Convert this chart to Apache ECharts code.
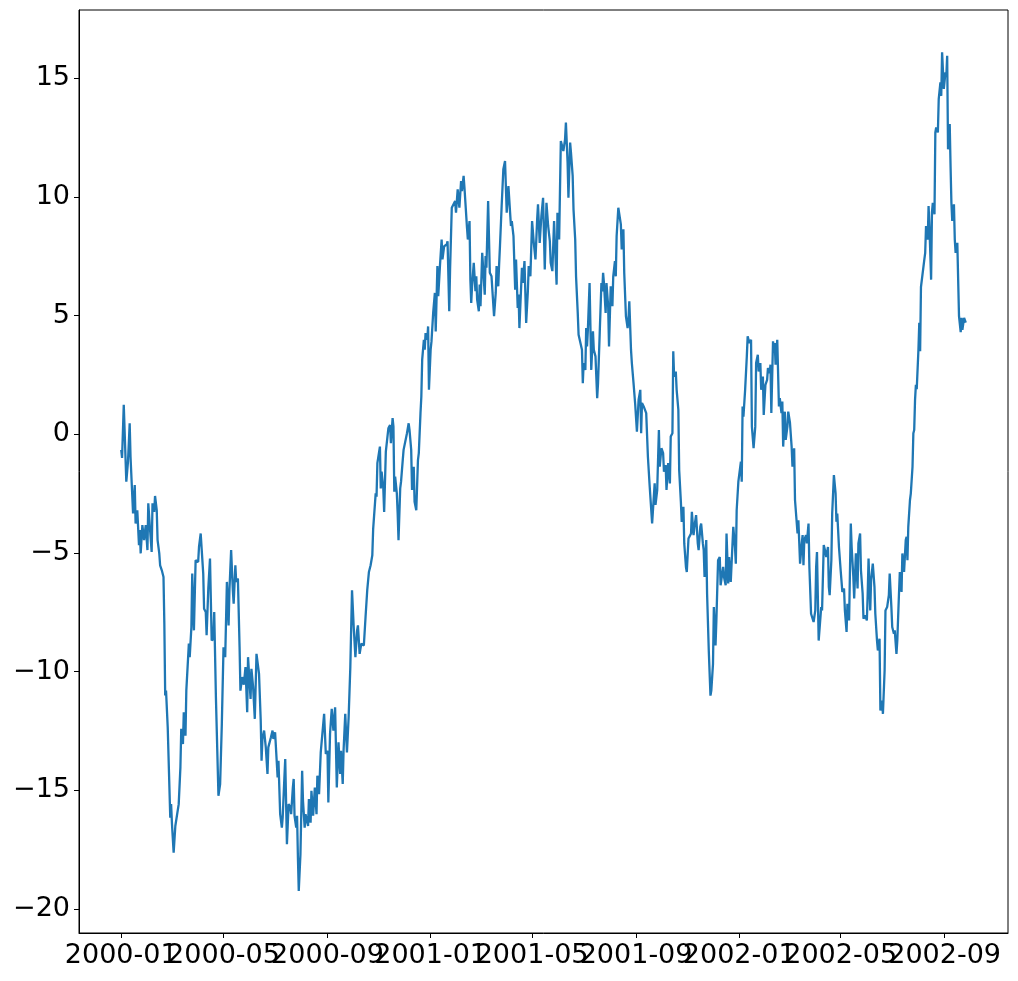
<!DOCTYPE html>
<html>
<head>
<meta charset="utf-8">
<script src="https://cdn.jsdelivr.net/npm/echarts@6/dist/echarts.min.js"></script>
<style>
  html, body { margin: 0; padding: 0; background: #fff; }
  #main { width: 1018px; height: 981px; }
</style>
</head>
<body>
<div id="main"></div>
<script>
// days since 2000-01-01 and the value at that day
var days = [
  0,1,3,4,6,8,10,11,12,14,16,17,19,21,22,23,25,27,29,31,32,34,36,37,39,40,42,43,45,46,48,50,
  51,52,53,55,58,59,60,62,64,66,68,70,71,73,74,76,77,80,81,83,84,86,88,91,92,94,97,98,100,
  101,103,104,105,107,109,110,112,115,117,119,121,123,125,127,128,130,132,133,135,136,138,140,
  141,143,145,147,149,150,153,154,156,158,160,162,163,165,166,167,169,171,173,174,177,179,180,
  182,184,185,186,188,190,191,193,194,196,198,200,201,203,204,205,207,208,209,210,212,214,215,
  217,218,219,221,222,224,225,227,229,231,232,234,236,238,240,242,244,245,247,249,251,253,255,
  257,259,260,262,263,265,267,269,271,273,275,277,279,280,282,284,285,287,289,291,293,295,297,
  298,301,302,303,304,306,307,308,310,311,313,314,316,318,319,321,322,323,324,326,327,328,330,
  331,333,334,336,338,340,341,343,344,346,347,349,351,352,354,355,356,358,359,360,362,363,364,
  366,367,369,371,372,374,375,377,379,380,382,383,385,386,388,389,391,393,395,396,398,400,402,
  403,405,406,408,409,410,412,413,414,415,417,419,420,421,423,424,425,427,428,430,431,432,434,
  436,438,440,441,443,444,446,447,448,450,452,454,456,458,459,461,462,464,466,467,469,470,471,
  474,475,477,479,481,482,484,486,488,490,492,493,495,497,499,501,503,505,507,508,510,512,513,
  515,516,518,520,522,523,525,526,528,529,531,532,534,535,537,538,540,541,543,545,546,547,549,
  550,551,552,554,556,558,559,561,563,564,566,568,569,570,571,573,574,576,577,579,581,582,584,
  585,586,588,590,591,592,594,595,597,599,600,601,603,604,606,608,609,610,612,614,615,616,618,
  619,621,623,625,626,628,630,631,632,634,636,637,639,641,642,644,645,647,649,650,652,653,654,
  656,657,659,660,662,663,665,666,668,669,671,672,674,675,677,678,680,682,683,685,686,688,689,
  690,692,693,695,697,698,700,701,703,704,706,708,709,711,712,713,715,716,718,719,721,723,724,
  726,727,728,730,732,733,734,735,736,738,740,741,743,745,746,748,750,751,753,754,756,757,759,
  760,762,764,765,767,768,769,771,772,773,774,776,778,779,781,782,783,785,786,788,789,791,793,
  794,796,797,799,800,801,803,805,806,807,808,810,811,813,814,816,817,819,821,822,823,825,826,
  828,829,831,832,834,836,837,838,840,841,843,845,846,847,849,851,852,853,855,856,858,859,861,
  863,864,866,867,869,871,872,874,875,877,878,880,882,883,884,886,887,889,891,892,894,895,897,
  898,900,901,903,904,906,908,909,911,912,914,915,917,918,920,921,923,924,926,928,929,930,931,
  933,934,936,937,938,939,940,941,943,944,945,946,948,950,951,952,954,955,956,958,959,960,962,
  963,964,966,967,969,970,971,972,973,975,976,977,978,980,981,982,983,985,986,987,989,990,991,
  993,994,995,997,999
];
var values = [
  -0.66,-1.0,1.24,1.25,-2.0,-1.16,0.46,-0.95,-1.0,-3.34,-2.14,-3.76,-3.2,-4.67,-4.04,-5.02,-3.83,-4.46,-3.83,-4.88,-2.91,-3.97,-4.96,-2.91,-3.27,-2.6,-3.2,-4.46,-5.02,-5.52,-5.73,-6.01,
  -7.98,-11.0,-10.8,-12.35,-16.15,-15.58,-16.4,-17.62,-16.5,-16.5,-15.58,-14.03,-12.41,-13.05,-11.71,-12.7,-10.8,-8.82,-9.39,-8.12,-5.87,-8.26,-5.31,-5.38,-4.75,-4.18,-5.87,-7.35,-7.49,
  -8.47,-6.5,-6.46,-5.24,-8.69,-8.6,-7.49,-11.08,-15.23,-14.73,-12.2,-8.97,-9.39,-6.22,-8.05,-6.57,-4.88,-6.57,-7.14,-5.52,-6.22,-6.08,-8.97,
  -10.8,-10.23,-10.55,-9.81,-11.71,-9.39,-11.15,-9.88,-10.65,-11.99,-9.25,-9.81,-10.09,-12.06,-13.75,-12.83,-12.48,-13.19,-14.31,-13.19,-12.77,-12.48,-12.83,
  -12.55,-12.55,-14.46,-13.75,-16.0,-16.57,-16.14,-14.46,-13.68,-17.27,-15.58,-15.72,-16.0,-14.88,-14.52,-16.07,-16.57,-16.07,-17.83,-19.24,-17.69,-14.17,-15.44,
  -16.57,-16.0,-16.0,-16.5,-15.37,-16.36,-15.02,-16.07,-14.88,-16.0,-14.38,-15.16,-13.4,-13.47,-11.78,-13.47,-13.33,-15.51,-12.62,-11.57,-12.48,-11.5,-14.88,
  -12.98,-14.31,-13.33,-14.73,-13.33,-11.78,-13.4,-11.92,-9.81,-6.57,-8.12,-9.39,-8.26,-8.05,-9.25,-8.82,-8.82,-8.9,-7.7,-6.57,-5.8,-5.52,-5.1,
  -4.0,-2.49,-2.63,-1.22,-1.2,-0.52,-2.28,-1.58,-2.28,-3.27,-0.73,-0.73,0.25,0.39,-0.38,0.68,0.32,-2.42,-1.79,-2.49,-3.34,-4.46,-2.28,
  -2.0,-1.09,-0.66,-0.6,0.04,0.46,0.18,-0.66,-2.35,-1.37,-2.85,-3.2,-1.09,-0.8,0.89,1.59,3.14,3.98,3.56,4.26,3.98,4.54,1.87,
  3.56,3.91,5.11,5.95,4.33,7.08,5.81,7.08,8.2,7.36,7.92,7.85,7.99,8.13,5.18,6.94,9.54,9.61,9.82,9.33,10.31,9.54,10.66,
  10.24,10.88,10.39,10.39,8.7,8.2,8.98,6.51,5.53,6.23,7.22,6.02,6.65,5.67,5.18,6.3,5.39,7.64,7.57,5.88,7.5,7.01,9.82,
  6.8,6.65,6.73,4.97,5.95,7.08,6.23,7.15,7.92,9.61,11.16,11.51,9.33,10.45,10.45,8.77,8.98,8.34,6.09,7.36,5.32,5.88,4.47,
  7.01,6.37,7.29,4.69,6.02,7.08,6.65,8.98,8.06,7.36,9.05,9.68,8.06,9.19,9.96,6.94,9.75,8.77,8.13,7.22,6.87,8.98,8.06,
  6.3,9.33,8.2,12.35,12.07,11.93,12.42,13.13,11.44,9.96,12.28,11.86,10.88,9.47,8.2,6.65,5.11,4.19,4.12,3.56,2.15,3.0,2.71,
  4.47,3.7,4.4,6.37,2.71,4.33,3.56,3.28,1.52,2.15,4.26,6.37,6.02,6.8,6.37,5.11,6.37,5.39,3.7,6.23,5.39,6.65,7.29,
  6.65,8.34,9.54,9.47,8.84,7.78,8.63,6.8,4.97,4.47,4.83,5.6,3.56,3.0,2.15,1.24,1.31,0.11,1.45,1.87,0.04,1.31,1.17,
  1.2,0.89,-0.95,-2.14,-2.21,-3.76,-2.63,-2.07,-2.98,-2.35,0.18,-1.37,-0.59,-0.8,-1.58,-1.3,-2.35,-1.22,-2.07,-0.1,0.04,3.49,2.43,
  2.64,1.87,1.03,-1.51,-2.85,-3.69,-3.06,-4.6,-5.59,-5.8,-4.39,-4.32,-4.18,-3.27,-4.25,-3.9,-3.41,-4.6,-4.88,-3.9,-3.76,-4.6,-4.88,
  -6.01,-4.46,-6.71,-9.11,-11.01,-10.8,-9.67,-7.28,-8.9,-7.84,-5.31,-5.17,-6.36,-6.29,-5.59,-6.01,-6.36,-4.18,-6.29,-5.17,-6.22,-4.67,-3.9,
  -4.75,-5.45,-3.2,-2.0,-2.07,-1.16,-2.0,1.17,0.74,1.87,3.28,4.12,3.84,3.98,0.32,-0.59,0.32,3.0,3.35,2.64,3.0,1.87,2.43,
  0.81,2.08,2.29,2.79,2.57,2.93,0.89,3.91,3.63,3.84,2.93,3.98,1.17,1.52,0.89,1.38,-0.52,0.95,-0.24,0.32,0.95,0.5,-0.52,
  -1.37,-0.59,-2.77,-2.85,-4.18,-3.62,-5.45,-4.6,-4.25,-5.52,-4.46,-4.25,-4.6,-3.76,-5.59,-7.56,-7.56,-7.91,-7.42,-5.59,-4.96,-8.69,-8.69,
  -7.28,-7.42,-4.67,-4.81,-5.17,-4.75,-6.43,-6.78,-5.31,-3.34,-1.72,-2.49,-3.69,-3.34,-4.75,-5.73,-5.8,-6.64,-6.5,-7.42,-8.33,-7.14,-7.84,
  -3.76,-4.75,-6.01,-6.92,-5.02,-6.5,-4.6,-4.18,-5.73,-6.71,-7.77,-7.63,-7.84,-6.71,-5.24,-7.42,-6.15,-5.45,-6.43,-7.56,-8.69,-9.11,-8.61,
  -11.64,-11.22,-11.78,-9.95,-7.42,-7.28,-6.78,-5.87,-7.28,-8.12,-8.4,-8.26,-9.25,-8.69,-6.71,-5.8,-6.64,-5.02,-5.8,-4.46,-4.32,-5.31,-3.9,
  -2.77,-2.49,-1.37,0.04,0.18,1.45,2.08,1.9,3.56,4.69,3.5,6.2,6.16,7.36,7.64,8.77,8.2,9.61,8.77,6.51,9.33,9.75,9.26,
  12.71,12.92,12.71,14.11,14.82,14.25,16.09,16.1,14.54,15.24,15.1,15.94,12.0,13.06,11.3,9.75,8.98,9.68,8.2,7.64,8.06,6.51,4.97,
  4.3,4.9,4.4,4.9,4.7
];
var xTickLabels = ['2000-01','2000-05','2000-09','2001-01','2001-05','2001-09','2002-01','2002-05','2002-09'];
var yTicks = [-20, -15, -10, -5, 0, 5, 10, 15];

var DAY = 86400000;
var t0 = Date.UTC(2000, 0, 1);

var seriesData = [];
for (var i = 0; i < days.length; i++) {
  seriesData.push([t0 + days[i] * DAY, values[i]]);
}
var xTicks = xTickLabels.map(function (s) {
  var p = s.split('-');
  return Date.UTC(+p[0], +p[1] - 1, 1);
});
// the labels overlap their neighbours, so split them over two stacked axes
// (even and odd positions) so ECharts does not drop any of them
var xTicksEven = xTicks.filter(function (t, k) { return k % 2 === 0; });
var xTicksOdd = xTicks.filter(function (t, k) { return k % 2 === 1; });

// matplotlib style margins: 5% either side of the data
var xSpan = days[days.length - 1] - days[0];
var xMin = t0 + (days[0] - xSpan * 0.05) * DAY;
var xMax = t0 + (days[days.length - 1] + xSpan * 0.05) * DAY;
var vMin = Math.min.apply(null, values), vMax = Math.max.apply(null, values);
var ySpan = vMax - vMin;

function pad(n) { return n < 10 ? '0' + n : '' + n; }
function monthLabel(v) {
  var d = new Date(v);
  return d.getUTCFullYear() + '-' + pad(d.getUTCMonth() + 1);
}
var labelStyle = {
  hideOverlap: false,
  showMinLabel: true,
  showMaxLabel: true,
  margin: 9,
  color: '#000',
  fontSize: 27,
  fontFamily: 'DejaVu Sans',
  formatter: monthLabel
};

var myChart = echarts.init(document.getElementById('main'));
var option = {
  animation: false,
  backgroundColor: '#fff',
  grid: {
    left: 79, right: 10, top: 10, bottom: 48,
    show: true, borderColor: '#000', borderWidth: 1
  },
  xAxis: [{
    type: 'value',
    position: 'bottom',
    min: xMin,
    max: xMax,
    splitLine: { show: false },
    axisLine: { show: true, onZero: false, lineStyle: { color: '#000', width: 1 } },
    axisTick: { show: true, length: 5, lineStyle: { color: '#000' }, customValues: xTicks },
    axisLabel: Object.assign({ customValues: xTicksEven }, labelStyle)
  }, {
    type: 'value',
    position: 'bottom',
    offset: 0,
    min: xMin,
    max: xMax,
    splitLine: { show: false },
    axisLine: { show: false, onZero: false },
    axisTick: { show: false },
    axisLabel: Object.assign({ customValues: xTicksOdd }, labelStyle)
  }],
  yAxis: {
    type: 'value',
    min: vMin - ySpan * 0.05,
    max: vMax + ySpan * 0.05,
    splitLine: { show: false },
    axisLine: { show: true, onZero: false, lineStyle: { color: '#000', width: 1 } },
    axisTick: { show: true, length: 5, lineStyle: { color: '#000' }, customValues: yTicks },
    axisLabel: {
      customValues: yTicks,
      showMinLabel: true,
      showMaxLabel: true,
      margin: 9,
      color: '#000',
      fontSize: 27,
      fontFamily: 'DejaVu Sans',
      formatter: function (v) {
        return v < 0 ? '\u2212' + Math.abs(v) : '' + v;
      }
    }
  },
  series: [{
    type: 'line',
    xAxisIndex: 0,
    data: seriesData,
    showSymbol: false,
    lineStyle: { color: '#1f77b4', width: 2.3 },
    itemStyle: { color: '#1f77b4' }
  }]
};
myChart.setOption(option);
</script>
</body>
</html>
